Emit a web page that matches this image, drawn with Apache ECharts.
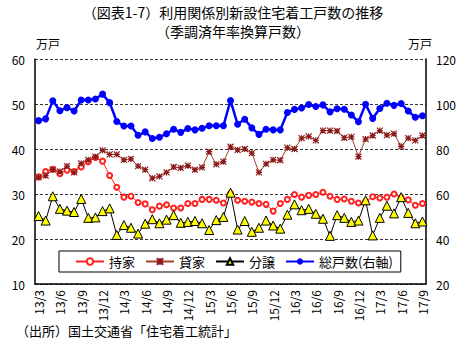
<!DOCTYPE html>
<html>
<head>
<meta charset="utf-8">
<script src="https://cdn.jsdelivr.net/npm/echarts@6/dist/echarts.min.js"></script>
<style>
html,body{margin:0;padding:0;background:#fff;}
#c{width:466px;height:351px;}
</style>
</head>
<body>
<div id="c"></div>
<script>
const categories = [
 '13/3','13/4','13/5','13/6','13/7','13/8','13/9','13/10','13/11','13/12',
 '14/1','14/2','14/3','14/4','14/5','14/6','14/7','14/8','14/9','14/10','14/11','14/12',
 '15/1','15/2','15/3','15/4','15/5','15/6','15/7','15/8','15/9','15/10','15/11','15/12',
 '16/1','16/2','16/3','16/4','16/5','16/6','16/7','16/8','16/9','16/10','16/11','16/12',
 '17/1','17/2','17/3','17/4','17/5','17/6','17/7','17/8','17/9'
];
const mochiie = [33.8,35.0,35.5,34.5,35.3,35.0,36.0,37.2,38.1,37.3,
 34.1,31.5,29.3,29.5,28.1,27.8,26.5,27.3,27.6,26.9,26.9,27.9,
 27.9,28.8,28.8,28.6,28.0,30.1,28.6,28.4,28.2,27.9,27.7,26.2,
 27.9,28.8,29.9,29.3,29.7,29.9,30.4,29.5,28.8,28.9,28.4,28.0,
 28.3,29.4,29.1,29.3,30.0,29.2,28.7,27.5,27.9];
const kashiya = [33.7,34.1,35.4,35.0,36.2,34.8,36.8,37.6,38.3,39.7,
 38.8,38.8,37.6,37.8,36.2,35.4,33.5,33.9,34.8,36.0,35.8,36.3,
 35.4,35.9,39.4,36.6,37.2,40.5,39.8,40.0,39.1,34.8,36.7,37.6,
 37.5,40.3,40.0,42.4,42.8,41.9,44.1,44.1,44.0,42.5,42.7,38.3,
 42.2,43.0,44.1,43.1,43.4,40.6,42.4,41.9,43.0];
const bunjo = [25.1,24.1,29.5,26.7,26.3,26.0,28.9,24.7,24.8,26.2,
 26.8,20.9,23.1,22.5,21.2,23.4,24.4,23.5,24.3,25.3,23.6,23.8,
 24.0,23.5,22.0,24.2,24.9,30.3,22.1,24.0,21.6,22.5,24.1,23.0,
 22.3,25.4,27.7,26.4,26.7,25.6,24.5,20.7,25.3,24.7,23.8,24.1,
 28.6,20.8,24.7,27.4,25.7,29.3,25.8,23.5,23.9];
const total = [92.6,93.4,101.4,97.0,98.4,96.9,101.8,101.8,102.2,104.4,
 100.6,92.2,90.2,90.2,86.1,87.6,84.7,85.2,86.8,88.8,87.4,89.1,
 88.5,89.2,90.3,90.3,90.3,101.5,91.0,93.2,89.4,86.5,88.8,88.5,
 88.5,96.2,97.6,98.2,99.8,98.9,99.6,96.5,97.9,97.7,95.1,92.1,
 99.9,93.6,98.0,100.3,99.4,100.2,96.9,94.1,94.8];
const seriesNames = ['持家','貸家','分譲','総戸数(右軸)'];
const titleText = '（図表1-7）利用関係別新設住宅着工戸数の推移';
const subtitleText = '（季調済年率換算戸数）';
const unitText = '万戸';
const sourceText = '（出所）国土交通省「住宅着工統計」';

const FONT = '"Noto Sans CJK JP", "Liberation Sans", sans-serif';
const chart = echarts.init(document.getElementById('c'), null, {renderer: 'svg'});
chart.setOption({
  animation: false,
  backgroundColor: '#fff',
  textStyle: {fontFamily: FONT, color: '#000'},
  title: [
    {text: titleText, left: 'center', top: 4, padding: 0,
     textStyle: {fontSize: 14, lineHeight: 16, fontWeight: 'normal', color: '#000', fontFamily: FONT}},
    {text: subtitleText, left: 'center', top: 23, padding: 0,
     textStyle: {fontSize: 14, lineHeight: 16, fontWeight: 'normal', color: '#000', fontFamily: FONT}}
  ],
  graphic: [
    {type: 'text', left: 36, top: 37, style: {text: unitText, font: '12px ' + FONT, fill: '#000'}},
    {type: 'text', left: 408, top: 37, style: {text: unitText, font: '12px ' + FONT, fill: '#000'}},
    {type: 'text', left: 16, top: 324, style: {text: sourceText, font: '13px ' + FONT, fill: '#000'}}
  ],
  grid: {left: 35, right: 40, top: 59, bottom: 67},
  legend: {
    data: seriesNames,
    left: 59, top: 251,
    itemWidth: 28, itemHeight: 8, itemGap: 10,
    padding: [4, 8, 4, 16],
    borderColor: '#000', borderWidth: 1, backgroundColor: '#fff',
    textStyle: {fontSize: 13, color: '#000', fontFamily: FONT}
  },
  xAxis: {
    type: 'category', data: categories, boundaryGap: true,
    axisLine: {lineStyle: {color: '#000', width: 1.5}},
    axisTick: {show: false},
    axisLabel: {interval: 2, rotate: 90, fontSize: 12, color: '#000', margin: 6, fontFamily: FONT}
  },
  yAxis: [
    {type: 'value', min: 10, max: 60, interval: 10,
     axisLine: {show: true, lineStyle: {color: '#000', width: 1.5}},
     axisTick: {show: false},
     axisLabel: {fontSize: 12, color: '#000', margin: 10, fontFamily: FONT},
     splitLine: {show: true, lineStyle: {color: '#333', type: [3, 2], width: 1}}},
    {type: 'value', min: 20, max: 120, interval: 20,
     axisLine: {show: true, lineStyle: {color: '#000', width: 1.5}},
     axisTick: {show: false},
     axisLabel: {fontSize: 12, color: '#000', margin: 10, fontFamily: FONT},
     splitLine: {show: false}}
  ],
  series: [
    {name: seriesNames[0], type: 'line', data: mochiie, yAxisIndex: 0,
     symbol: 'emptyCircle', symbolSize: 5, showAllSymbol: true,
     lineStyle: {color: '#ff2020', width: 1},
     itemStyle: {color: '#ff2020', borderColor: '#ff2020', borderWidth: 1}},
    {name: seriesNames[1], type: 'line', data: kashiya, yAxisIndex: 0,
     symbol: 'path://M0,0L10,10M10,0L0,10M5,0L5,10M0,5L10,5', symbolSize: 6, showAllSymbol: true,
     lineStyle: {color: '#a0402a', width: 1},
     itemStyle: {color: '#8b1a1a', borderColor: '#8b1a1a', borderWidth: 1.2}},
    {name: seriesNames[2], type: 'line', data: bunjo, yAxisIndex: 0,
     symbol: 'triangle', symbolSize: 9, showAllSymbol: true,
     lineStyle: {color: '#000', width: 1},
     itemStyle: {color: '#ffff00', borderColor: '#000', borderWidth: 1}},
    {name: seriesNames[3], type: 'line', data: total, yAxisIndex: 1,
     symbol: 'circle', symbolSize: 7, showAllSymbol: true,
     lineStyle: {color: '#0000ff', width: 2.5},
     itemStyle: {color: '#0000ff'}}
  ]
});
</script>
</body>
</html>
